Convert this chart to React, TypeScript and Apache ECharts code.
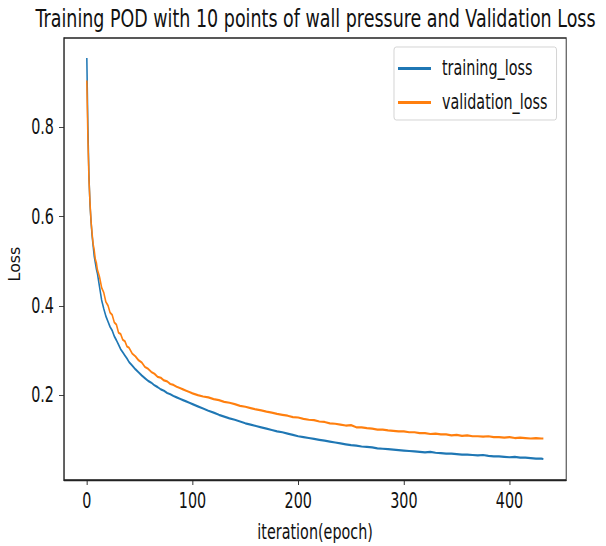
import React, { useEffect, useRef } from "react";
import * as echarts from "echarts";

const titleText = "Training POD with 10 points of wall pressure and Validation Loss";
const xAxisName = "iteration(epoch)";
const yAxisName = "Loss";
const seriesNames = ["training_loss", "validation_loss"];
const xTicks = [0, 100, 200, 300, 400];
const yTicks = [0.2, 0.4, 0.6, 0.8];

const epochs = [
  0, 1, 2, 3, 4, 5, 6, 7, 8, 9, 10, 12, 14, 16, 18, 20, 22, 24, 26, 28, 30, 32, 34, 36, 38, 40,
  43, 46, 49, 52, 55, 58, 61, 64, 67, 70, 73, 76, 79, 82, 85, 88, 91, 94, 97, 100,
  105, 110, 115, 120, 125, 130, 135, 140, 145, 150, 155, 160, 165, 170, 175, 180, 185, 190, 195, 200,
  205, 210, 215, 220, 225, 230, 235, 240, 245, 250, 255, 260, 265, 270, 275, 280, 285, 290, 295, 300,
  305, 310, 315, 320, 325, 330, 335, 340, 345, 350, 355, 360, 365, 370, 375, 380, 385, 390, 395, 400,
  405, 410, 415, 420, 425, 430, 432,
];

const trainingLoss = [
  0.955, 0.801, 0.692, 0.627, 0.589, 0.557, 0.534, 0.511, 0.497, 0.483, 0.473, 0.443, 0.413, 0.394, 0.377, 0.365, 0.353, 0.345, 0.332, 0.323, 0.313, 0.303, 0.296, 0.289, 0.282, 0.274,
  0.266, 0.258, 0.251, 0.244, 0.238, 0.232, 0.228, 0.222, 0.218, 0.213, 0.21, 0.205, 0.202, 0.198, 0.195, 0.192, 0.189, 0.186, 0.183, 0.18,
  0.175, 0.17, 0.165, 0.161, 0.156, 0.152, 0.148, 0.145, 0.141, 0.137, 0.134, 0.131, 0.128, 0.125, 0.122, 0.119, 0.117, 0.114, 0.111, 0.108,
  0.106, 0.104, 0.102, 0.1, 0.098, 0.096, 0.094, 0.092, 0.09, 0.088, 0.087, 0.085, 0.084, 0.083, 0.081, 0.08, 0.079, 0.078, 0.077, 0.076,
  0.075, 0.074, 0.073, 0.072, 0.073, 0.071, 0.07, 0.069, 0.069, 0.068, 0.067, 0.067, 0.066, 0.065, 0.066, 0.064, 0.063, 0.063, 0.062, 0.061,
  0.062, 0.06, 0.06, 0.059, 0.058, 0.058, 0.057,
];

const validationLoss = [
  0.905, 0.776, 0.684, 0.632, 0.589, 0.562, 0.538, 0.525, 0.505, 0.497, 0.481, 0.465, 0.441, 0.43, 0.409, 0.401, 0.385, 0.38, 0.363, 0.358, 0.34, 0.337, 0.324, 0.321, 0.309, 0.306,
  0.293, 0.287, 0.278, 0.273, 0.263, 0.259, 0.252, 0.248, 0.241, 0.239, 0.233, 0.231, 0.225, 0.223, 0.219, 0.216, 0.213, 0.21, 0.207, 0.204,
  0.2, 0.197, 0.195, 0.191, 0.189, 0.185, 0.183, 0.18, 0.176, 0.174, 0.171, 0.168, 0.166, 0.163, 0.161, 0.158, 0.156, 0.154, 0.151, 0.15,
  0.147, 0.145, 0.144, 0.141, 0.14, 0.137, 0.136, 0.134, 0.132, 0.133, 0.128, 0.128, 0.126, 0.125, 0.123, 0.123, 0.121, 0.12, 0.119, 0.119,
  0.117, 0.117, 0.115, 0.115, 0.113, 0.114, 0.112, 0.112, 0.11, 0.111, 0.109, 0.11, 0.108, 0.108, 0.107, 0.108, 0.106, 0.106, 0.105, 0.106,
  0.104, 0.105, 0.104, 0.103, 0.104, 0.103, 0.103,
];

// The reference figure is horizontally compressed; draw wide and squeeze with scaleX.
const SX = 0.7;
const W = 606 / SX;
const H = 546;
const FONT = "'DejaVu Sans', sans-serif";
const px = (v: number) => v / SX;

export default function App() {
  const ref = useRef<HTMLDivElement>(null);
  useEffect(() => {
    if (!ref.current) return;
    const chart = echarts.init(ref.current, null, { renderer: "svg" });
    const pairs = (vals: number[]) => epochs.map((e, i) => [e, vals[i]]);
    chart.setOption({
      animation: false,
      backgroundColor: "#fff",
      title: {
        text: titleText,
        left: px(312),
        top: 1,
        textAlign: "center",
        textStyle: { fontFamily: FONT, fontSize: 25, fontWeight: "normal", color: "#111" },
      },
      graphic: [
        {
          type: "text",
          x: px(14),
          y: 264,
          rotation: Math.PI / 2,
          scaleX: 0.69,
          style: {
            text: yAxisName,
            fontFamily: FONT,
            fontSize: 23,
            fill: "#111",
            align: "center",
            verticalAlign: "middle",
            textAlign: "center",
            textVerticalAlign: "middle",
          },
        },
      ],
      grid: {
        left: px(64),
        right: px(40),
        top: 38,
        bottom: 66,
        containLabel: false,
        outerBoundsMode: "none",
        show: true,
        borderColor: "#222",
        borderWidth: 1.3,
        backgroundColor: "#fff",
      },
      legend: {
        orient: "vertical",
        left: px(394),
        top: 47,
        data: seriesNames,
        icon: "rect",
        itemWidth: px(33),
        itemHeight: 3,
        itemGap: 13,
        padding: [11, px(9), 7, px(4)],
        borderColor: "#cccccc",
        borderWidth: 1,
        borderRadius: 3,
        backgroundColor: "rgba(255,255,255,0.8)",
        textStyle: { fontFamily: FONT, fontSize: 20.5, lineHeight: 20, color: "#111", padding: [0, 0, 0, px(11) - 5] },
      },
      xAxis: {
        type: "value",
        min: -21.6,
        max: 453.6,
        name: xAxisName,
        nameLocation: "middle",
        nameGap: 42,
        nameTextStyle: { fontFamily: FONT, fontSize: 20.5, color: "#111" },
        splitLine: { show: false },
        axisLine: { show: true, onZero: false, lineStyle: { color: "#222", width: 1.3 } },
        axisTick: { show: true, length: 5, lineStyle: { color: "#222", width: 1.3 }, customValues: xTicks },
        axisLabel: { fontFamily: FONT, fontSize: 20.5, color: "#111", margin: 11, customValues: xTicks },
      },
      yAxis: {
        type: "value",
        min: 0.01,
        max: 1.0,
        splitLine: { show: false },
        axisLine: { show: true, onZero: false, lineStyle: { color: "#222", width: 1.3 } },
        axisTick: { show: true, length: px(5), lineStyle: { color: "#222", width: 1 }, customValues: yTicks },
        axisLabel: { fontFamily: FONT, fontSize: 20.5, color: "#111", margin: px(10), customValues: yTicks, formatter: (v: number) => v.toFixed(1) },
      },
      series: [
        {
          name: seriesNames[0],
          type: "line",
          data: pairs(trainingLoss),
          showSymbol: false,
          symbol: "none",
          lineStyle: { color: "#1f77b4", width: 2.2 },
          itemStyle: { color: "#1f77b4" },
        },
        {
          name: seriesNames[1],
          type: "line",
          data: pairs(validationLoss),
          showSymbol: false,
          symbol: "none",
          lineStyle: { color: "#ff7f0e", width: 2.2 },
          itemStyle: { color: "#ff7f0e" },
        },
      ],
    });
    return () => chart.dispose();
  }, []);
  return (
    <div style={{ position: "absolute", left: 0, top: 0, width: 606, height: 546, overflow: "hidden", background: "#fff" }}>
      <div
        ref={ref}
        style={{ width: W, height: H, transform: `scaleX(${SX})`, transformOrigin: "0 0" }}
      />
    </div>
  );
}
